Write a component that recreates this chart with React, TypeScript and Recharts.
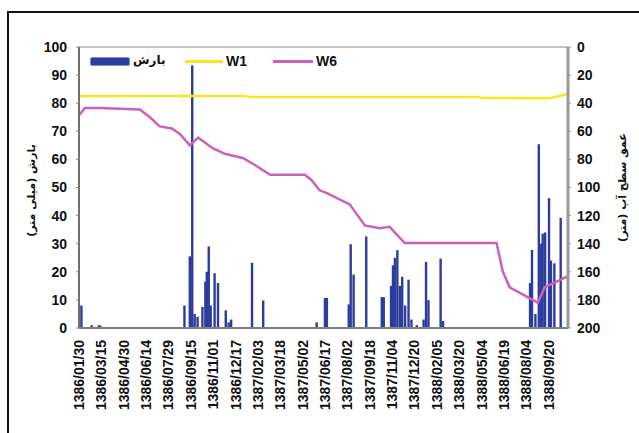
import React from 'react';
import { ComposedChart, Bar, Line, XAxis, YAxis, ReferenceArea, Legend } from 'recharts';

// Day index 0 = 1386/01/30, one tick label every 46 days
const xTickDays = [0, 46, 92, 138, 184, 230, 276, 322, 368, 414, 460, 506, 552, 598, 644, 690, 736, 782, 828, 874, 920, 966];
const xTickLabels = [
  '1386/01/30', '1386/03/15', '1386/04/30', '1386/06/14', '1386/07/29', '1386/09/15',
  '1386/11/01', '1386/12/17', '1387/02/03', '1387/03/18', '1387/05/02', '1387/06/17',
  '1387/08/02', '1387/09/18', '1387/11/04', '1387/12/20', '1388/02/05', '1388/03/20',
  '1388/05/04', '1388/06/19', '1388/08/04', '1388/09/20',
];
const DAY_MAX = 1006;

// Rainfall (mm), left axis
const rainDays = [5, 26, 41, 44, 217, 228, 233, 238, 244, 254, 260, 263, 267, 271, 279, 286, 302, 308, 313,
  356, 379, 489, 506, 510, 555, 559, 565, 591, 623, 627, 642, 646, 650, 655, 660, 665, 671, 678, 684, 695,
  709, 714, 719, 744, 749, 928, 932, 939, 946, 951, 954, 959, 967, 971, 978, 991];
const rainMm = [8, 1, 1, 0.8, 8, 25.5, 93.5, 5, 4, 7.5, 16.5, 20, 29, 8, 19.5, 16, 6.3, 2, 3,
  23.2, 9.8, 2, 10.7, 10.7, 8.4, 29.8, 19, 32.6, 11, 11, 15, 22.3, 25, 27.7, 15, 18.2, 8, 17.2, 3, 1,
  3, 23.5, 9.9, 24.7, 2.5, 16, 27.8, 5, 65.4, 30, 33.6, 34, 46.2, 24, 23, 39.2];

// Well W1 water depth (m), right axis
const w1Days = [0, 341, 350, 818, 830, 968, 1006];
const w1Depth = [34.8, 34.8, 35.5, 35.5, 36.3, 36.5, 33.5];

// Well W6 water depth (m), right axis
const w6Days = [0, 12, 43, 125, 146, 166, 191, 208, 228, 234, 245, 259, 275, 300, 337, 362, 393, 465, 479,
  495, 510, 557, 588, 619, 639, 670, 859, 872, 886, 944, 958, 1004];
const w6Depth = [48.5, 43.5, 43.5, 44.5, 50, 56.5, 58, 62, 70, 68, 64.5, 68, 72, 76, 79, 84, 91, 91, 95,
  102, 104, 112, 127, 129, 128, 139.5, 139.5, 160, 171, 182, 171, 163.5];

const leftTicks = [0, 10, 20, 30, 40, 50, 60, 70, 80, 90, 100];
const rightTicks = [0, 20, 40, 60, 80, 100, 120, 140, 160, 180, 200];

type Row = { day: number; rain?: number; w1?: number; w6?: number };
const rowMap = new Map<number, Row>();
const getRow = (d: number) => {
  if (!rowMap.has(d)) rowMap.set(d, { day: d });
  return rowMap.get(d)!;
};
rainDays.forEach((d, i) => { getRow(d).rain = rainMm[i]; });
w1Days.forEach((d, i) => { getRow(d).w1 = w1Depth[i]; });
w6Days.forEach((d, i) => { getRow(d).w6 = w6Depth[i]; });
const data = Array.from(rowMap.values()).sort((a, b) => a.day - b.day);

const BLUE = '#2d3d9e';
const YELLOW = '#f6e71e';
const MAGENTA = '#c862bb';
const NUM_FONT = 'Liberation Sans, Arial, sans-serif';
const FA_FONT = 'DejaVu Sans, sans-serif';

const XTick = (props: any) => {
  const { x, y, payload } = props;
  const idx = xTickDays.indexOf(payload.value);
  const ty = y;
  return (
    <text
      x={x}
      y={ty}
      transform={`rotate(-90 ${x} ${ty})`}
      textAnchor="end"
      dy="0.36em"
      fontSize={14}
      fontWeight="bold"
      fontFamily={NUM_FONT}
      fill="#111"
    >
      {idx >= 0 ? xTickLabels[idx] : ''}
    </text>
  );
};

const RainBar = (props: any) => {
  const { x, y, width, height } = props;
  if (!height || height <= 0) return null;
  const cx = x + width / 2;
  const w = 2.4;
  return <rect x={cx - w / 2} y={y} width={w} height={height} fill={BLUE} />;
};

const LeftTitle = (props: any) => {
  const vb = props.viewBox;
  const cx = vb.x + 21;
  const cy = vb.y + vb.height / 2 + 3;
  return (
    <text x={cx} y={cy} transform={`rotate(-90 ${cx} ${cy})`} textAnchor="middle" dy="0.35em"
      fontSize={11} fontWeight="bold" fontFamily={FA_FONT} fill="#111" direction="rtl">
      بارش (میلی متر)
    </text>
  );
};

const RightTitle = (props: any) => {
  const vb = props.viewBox;
  const cx = vb.x + 54;
  const cy = vb.y + vb.height / 2;
  return (
    <text x={cx} y={cy} transform={`rotate(-90 ${cx} ${cy})`} textAnchor="middle" dy="0.35em"
      fontSize={11} fontWeight="bold" fontFamily={FA_FONT} fill="#111" direction="rtl">
      عمق سطح آب (متر)
    </text>
  );
};

const LegendContent = () => (
  <div style={{ position: 'relative', width: 260, height: 16 }}>
    <div style={{ position: 'absolute', left: 0, top: 3, width: 38, height: 7, background: BLUE, border: '1px solid #7d8fd6', borderRadius: 2 }} />
    <span style={{ position: 'absolute', left: 43, top: -1, fontFamily: FA_FONT, fontWeight: 'bold', fontSize: 12, color: '#111', direction: 'rtl' }}>بارش</span>
    <div style={{ position: 'absolute', left: 95, top: 6, width: 38, height: 3, background: YELLOW }} />
    <span style={{ position: 'absolute', left: 136, top: -1, fontFamily: NUM_FONT, fontWeight: 'bold', fontSize: 14, color: '#111' }}>W1</span>
    <div style={{ position: 'absolute', left: 183, top: 6, width: 40, height: 2.5, background: MAGENTA }} />
    <span style={{ position: 'absolute', left: 226, top: -1, fontFamily: NUM_FONT, fontWeight: 'bold', fontSize: 14, color: '#111' }}>W6</span>
  </div>
);

export default function App() {
  return (
    <div style={{ position: 'absolute', left: 0, top: 0, width: 639, height: 433, overflow: 'hidden', background: '#fff' }}>
      <div style={{ position: 'absolute', left: 7, top: 11, width: 700, height: 500, border: '2px solid #111', boxSizing: 'border-box' }} />
      <div style={{ position: 'absolute', left: 0, top: 0 }}>
        <ComposedChart width={639} height={433} data={data} margin={{ top: 47, right: 0, bottom: 0, left: 10 }}>
          <ReferenceArea yAxisId="left" x1={0} x2={DAY_MAX} y1={0} y2={100} fill="none" stroke="#8c8c8c" strokeWidth={1} ifOverflow="visible" />
          <XAxis
            dataKey="day"
            type="number"
            domain={[0, DAY_MAX]}
            ticks={xTickDays}
            interval={0}
            tick={<XTick />}
            tickLine={false}
            tickSize={0}
            tickMargin={12}
            axisLine={{ stroke: '#808080', strokeWidth: 2 }}
            height={105}
            allowDataOverflow
          />
          <YAxis
            yAxisId="left"
            domain={[0, 100]}
            ticks={leftTicks}
            interval={0}
            width={69}
            tickSize={3}
            tickMargin={9}
            tickLine={{ stroke: '#888' }}
            axisLine={{ stroke: '#707070', strokeWidth: 2 }}
            tick={{ fontSize: 14, fontWeight: 'bold', fill: '#111', fontFamily: NUM_FONT }}
            label={<LeftTitle />}
          />
          <YAxis
            yAxisId="right"
            orientation="right"
            reversed
            domain={[0, 200]}
            ticks={rightTicks}
            interval={0}
            width={71}
            tickSize={3}
            tickMargin={6}
            tickLine={{ stroke: '#999' }}
            axisLine={{ stroke: '#9a9a9a', strokeWidth: 3 }}
            tick={{ fontSize: 14, fontWeight: 'bold', fill: '#111', fontFamily: NUM_FONT, textAnchor: 'start' }}
            label={<RightTitle />}
          />
          <Legend
            layout="horizontal"
            verticalAlign="middle"
            align="center"
            content={<LegendContent />}
            wrapperStyle={{ position: 'absolute', left: 90, top: 54, width: 260, height: 16 }}
          />
          <Bar yAxisId="left" dataKey="rain" name="بارش" fill={BLUE} barSize={2} shape={<RainBar />} isAnimationActive={false} />
          <Line yAxisId="right" dataKey="w1" name="W1" stroke={YELLOW} strokeWidth={2.5} dot={false} connectNulls isAnimationActive={false} />
          <Line yAxisId="right" dataKey="w6" name="W6" stroke={MAGENTA} strokeWidth={2.5} dot={false} connectNulls isAnimationActive={false} />
        </ComposedChart>
      </div>
    </div>
  );
}
